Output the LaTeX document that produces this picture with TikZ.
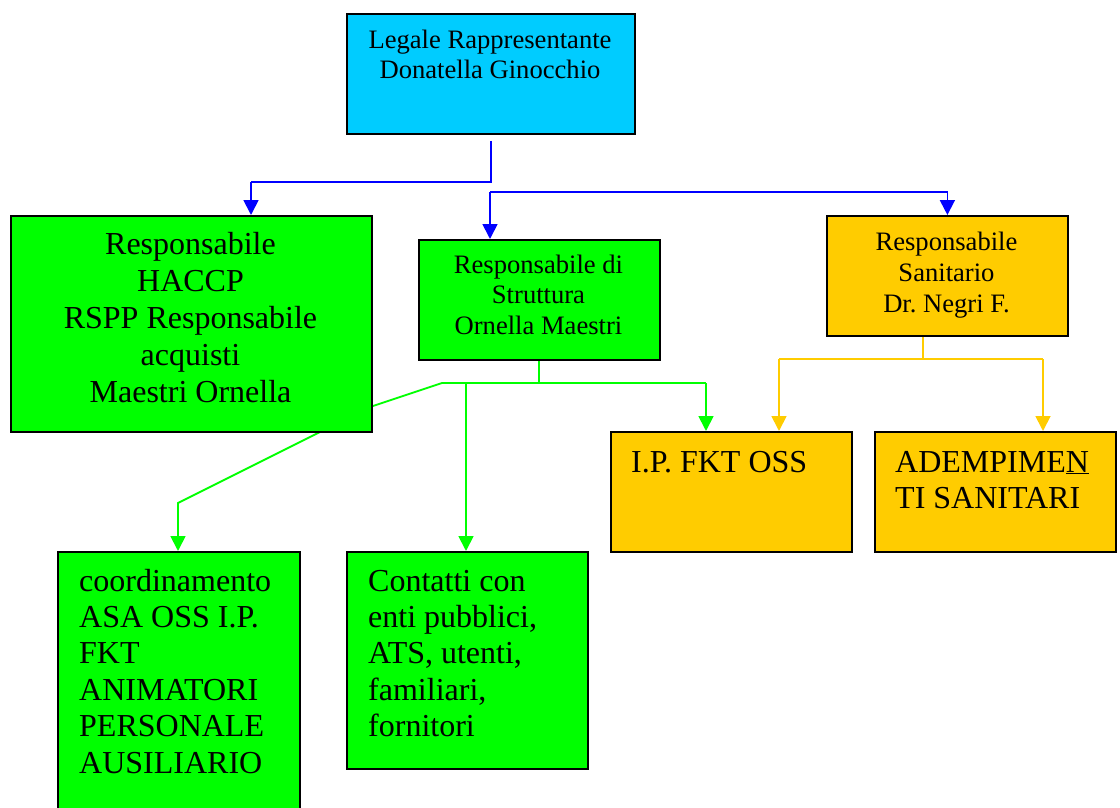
\documentclass[tikz,border=0pt]{standalone}
\usepackage{fontspec}
\setmainfont{Liberation Serif}
\usetikzlibrary{arrows.meta,calc}
\pgfdeclarelayer{bg}
\pgfsetlayers{bg,main}
\frenchspacing
\definecolor{boxcyan}{HTML}{00CCFF}
\definecolor{boxgreen}{HTML}{00FF00}
\definecolor{boxgold}{HTML}{FFCC00}
\definecolor{lineblue}{HTML}{0000FF}
\definecolor{linegreen}{HTML}{00FF00}
\definecolor{linegold}{HTML}{FFCC00}
\begin{document}
% multi-line texts are placed by the baseline of their last line
\begin{tikzpicture}[x=1pt,y=-1pt,
  box/.style={draw=black, line width=1.8pt, inner sep=0pt, anchor=north west},
  smalltext/.style={font=\fontsize{26.6}{31}\selectfont, align=center, inner sep=0pt, anchor=base},
  bigtext/.style={font=\fontsize{32}{37}\selectfont, align=center, inner sep=0pt, anchor=base},
  bigleft/.style={font=\fontsize{32}{36.4}\selectfont, align=left, inner sep=0pt, anchor=base west},
  link/.style={line width=1.8pt, -{Triangle[width=15pt,length=15pt]}},
  bare/.style={line width=1.8pt},
]
\useasboundingbox (0,0) rectangle (1120,808);

% boxes
\node[box, fill=boxcyan, minimum width=288pt, minimum height=120pt] (top) at (346,13) {};
\node[box, fill=boxgreen, minimum width=361pt, minimum height=216pt] (haccp) at (10,215) {};
\node[box, fill=boxgreen, minimum width=241pt, minimum height=120pt] (stru) at (418,239) {};
\node[box, fill=boxgold, minimum width=241pt, minimum height=120pt] (san) at (826,215) {};
\node[box, fill=boxgold, minimum width=241pt, minimum height=120pt] (ip) at (610,431) {};
\node[box, fill=boxgold, minimum width=241pt, minimum height=120pt] (adem) at (874,431) {};
\node[box, fill=boxgreen, minimum width=242pt, minimum height=270pt] (coord) at (57,551) {};
\node[box, fill=boxgreen, minimum width=241pt, minimum height=217pt] (cont) at (346,551) {};

% texts
\node[smalltext] (topT) at (490,79) {Legale Rappresentante\\Donatella Ginocchio};
\node[bigtext] (haccpT) at (190.5,402) {Responsabile\\HACCP\\RSPP Responsabile\\acquisti\\Maestri Ornella};
\node[smalltext, font=\fontsize{26.6}{30.5}\selectfont] (struT) at (538.5,334) {Responsabile di\\Struttura\\Ornella Maestri};
\node[smalltext] (sanT) at (946.5,312) {Responsabile\\Sanitario\\Dr. Negri F.};
\node[bigleft] (ipT) at (631,472) {I.P. FKT OSS};
\node[bigleft] (ademT) at (895,508.4) {ADEMPIME\underline{N}\\TI SANITARI};
\node[bigleft] (coordT) at (79,773) {coordinamento\\ASA OSS I.P.\\FKT\\ANIMATORI\\PERSONALE\\AUSILIARIO};
\node[bigleft] (contT) at (368,736.6) {Contatti con\\enti pubblici,\\ATS, utenti,\\familiari,\\fornitori};

% connectors (behind the boxes)
\begin{pgfonlayer}{bg}
  % blue
  \coordinate (b0) at ($(top.south)+(0,6)$);
  \coordinate (bl) at (251,182);
  \coordinate (br) at (490,192);
  \draw[bare, lineblue] (b0) |- (bl);
  \draw[link, lineblue] (bl) -- (bl |- haccp.north);
  \draw[link, lineblue] (br) -- (br |- stru.north);
  \draw[link, lineblue] (br) -| (san.north);
  % green
  \coordinate (gs) at (539,359);
  \coordinate (gl) at (442,383);
  \coordinate (gr) at (706,383);
  \coordinate (gm) at (466,383);
  \coordinate (gk) at (370,407);
  \coordinate (gd) at (178,503);
  \draw[bare, linegreen] (gs) -- (gs |- gl);
  \draw[bare, linegreen] (gl) -- (gr);
  \draw[link, linegreen] (gr) -- (gr |- ip.north);
  \draw[link, linegreen] (gm) -- (gm |- cont.north);
  \draw[link, linegreen] (gl) -- (gk) -- (gd) -- (gd |- coord.north);
  % gold
  \coordinate (ys) at ($(san.south west)+(97,0)$);
  \coordinate (yl) at (779,359);
  \coordinate (yr) at (1043,359);
  \draw[bare, linegold] (ys) -- (ys |- yl);
  \draw[bare, linegold] (yl) -- (yr);
  \draw[link, linegold] (yl) -- (yl |- ip.north);
  \draw[link, linegold] (yr) -- (yr |- adem.north);
\end{pgfonlayer}
\end{tikzpicture}
\end{document}
